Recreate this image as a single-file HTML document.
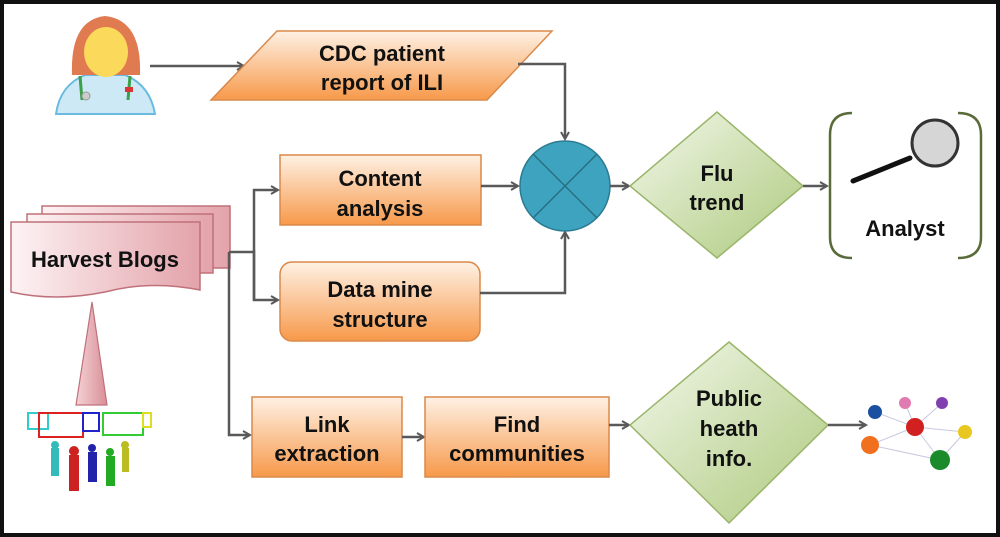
<!DOCTYPE html>
<html><head><style>
body{margin:0;background:#fff;}
svg{display:block;}
text{font-family:"Liberation Sans",Arial,sans-serif;font-weight:bold;fill:#111;text-anchor:middle;}
</style></head><body>
<svg width="1000" height="537" viewBox="0 0 1000 537" xmlns="http://www.w3.org/2000/svg">
<defs>
<linearGradient id="or" x1="0" y1="0" x2="0" y2="1"><stop offset="0" stop-color="#fef1e4"/><stop offset="1" stop-color="#f7994a"/></linearGradient>
<linearGradient id="gr" x1="0" y1="0" x2="1" y2="1"><stop offset="0" stop-color="#f4f8ec"/><stop offset="1" stop-color="#acc97c"/></linearGradient>
<linearGradient id="pk" x1="0" y1="0" x2="1" y2="0"><stop offset="0" stop-color="#fdf3f4"/><stop offset="1" stop-color="#e3a3aa"/></linearGradient>
<linearGradient id="tri" x1="0" y1="0" x2="1" y2="0"><stop offset="0" stop-color="#f3d3d6"/><stop offset="1" stop-color="#d98e96"/></linearGradient>
<marker id="ar" markerWidth="10" markerHeight="10" refX="8" refY="5" orient="auto" markerUnits="userSpaceOnUse"><path d="M1,1 L8,5 L1,9" fill="none" stroke="#595959" stroke-width="2"/></marker>
</defs>
<rect x="2" y="2" width="996" height="533" fill="#fff" stroke="#111" stroke-width="4"/>

<!-- doctor -->
<g>
<path d="M56,114 Q60,85 85,75 L125,75 Q150,85 155,114 Z" fill="#cde9f5" stroke="#6bbbe0" stroke-width="2"/>
<path d="M80,76 L82,100 M130,76 L128,100" stroke="#3aa04a" stroke-width="3" fill="none"/>
<circle cx="86" cy="96" r="4" fill="#ccc" stroke="#999"/>
<rect x="125" y="87" width="8" height="5" fill="#d33"/>
<path d="M72,75 Q70,20 105,16 Q142,20 140,75 Z" fill="#e07a50"/>
<ellipse cx="106" cy="52" rx="22" ry="25" fill="#fbd95a"/>
</g>
<line x1="150" y1="66" x2="244" y2="66" stroke="#595959" stroke-width="2.5" marker-end="url(#ar)"/>

<!-- CDC parallelogram -->
<polygon points="277,31 552,31 487,100 211,100" fill="url(#or)" stroke="#d9894a" stroke-width="1.5"/>
<text x="382" y="61" font-size="22">CDC patient</text>
<text x="382" y="90" font-size="22">report of ILI</text>
<polyline points="518,64 565,64 565,139" fill="none" stroke="#595959" stroke-width="2.5" marker-end="url(#ar)"/>

<!-- Content analysis -->
<rect x="280" y="155" width="201" height="70" fill="url(#or)" stroke="#d9894a" stroke-width="1.5"/>
<text x="380" y="186" font-size="22">Content</text>
<text x="380" y="216" font-size="22">analysis</text>
<line x1="481" y1="186" x2="518" y2="186" stroke="#595959" stroke-width="2.5" marker-end="url(#ar)"/>

<!-- Data mine -->
<rect x="280" y="262" width="200" height="79" rx="12" fill="url(#or)" stroke="#d9894a" stroke-width="1.5"/>
<text x="380" y="297" font-size="22">Data mine</text>
<text x="380" y="327" font-size="22">structure</text>
<polyline points="480,293 565,293 565,232" fill="none" stroke="#595959" stroke-width="2.5" marker-end="url(#ar)"/>

<!-- circle -->
<circle cx="565" cy="186" r="45" fill="#3ea3bf" stroke="#2b7c93" stroke-width="1.5"/>
<line x1="533" y1="154" x2="597" y2="218" stroke="#276f84" stroke-width="1.5"/>
<line x1="597" y1="154" x2="533" y2="218" stroke="#276f84" stroke-width="1.5"/>
<line x1="610" y1="186" x2="629" y2="186" stroke="#595959" stroke-width="2.5" marker-end="url(#ar)"/>

<!-- Flu trend -->
<polygon points="717,112 803,186 717,258 630,186" fill="url(#gr)" stroke="#9ab56a" stroke-width="1.5"/>
<text x="717" y="181" font-size="22">Flu</text>
<text x="717" y="210" font-size="22">trend</text>
<line x1="803" y1="186" x2="827" y2="186" stroke="#595959" stroke-width="2.5" marker-end="url(#ar)"/>

<!-- Analyst bracket -->
<path d="M852,113 Q830,113 830,135 L830,237 Q830,258 852,258" fill="none" stroke="#5a6b3a" stroke-width="2.5"/>
<path d="M958,113 Q981,113 981,135 L981,237 Q981,258 958,258" fill="none" stroke="#5a6b3a" stroke-width="2.5"/>
<line x1="853" y1="181" x2="910" y2="158" stroke="#111" stroke-width="5" stroke-linecap="round"/>
<circle cx="935" cy="143" r="23" fill="#d6d6d6" stroke="#333" stroke-width="3"/>
<text x="905" y="236" font-size="22">Analyst</text>

<!-- Harvest blogs -->
<rect x="42" y="206" width="188" height="62" fill="url(#pk)" stroke="#c0707a" stroke-width="1.5"/>
<rect x="27" y="214" width="186" height="59" fill="url(#pk)" stroke="#c0707a" stroke-width="1.5"/>
<path d="M11,222 L200,222 L200,290 Q150,280 105,292 Q55,302 11,292 Z" fill="url(#pk)" stroke="#c0707a" stroke-width="1.5"/>
<text x="105" y="267" font-size="22">Harvest Blogs</text>

<!-- connectors from blogs -->
<polyline points="229,252 254,252" fill="none" stroke="#595959" stroke-width="2.5"/>
<polyline points="254,300 254,190 278,190" fill="none" stroke="#595959" stroke-width="2.5" marker-end="url(#ar)"/>
<polyline points="254,250 254,300 278,300" fill="none" stroke="#595959" stroke-width="2.5" marker-end="url(#ar)"/>
<polyline points="229,252 229,435 250,435" fill="none" stroke="#595959" stroke-width="2.5" marker-end="url(#ar)"/>

<!-- triangle -->
<polygon points="92,302 107,405 76,405" fill="url(#tri)" stroke="#c0707a" stroke-width="1.2"/>

<!-- people with bubbles -->
<g fill="none" stroke-width="2">
<rect x="28" y="413" width="20" height="16" stroke="#3cc"/>
<rect x="39" y="413" width="44" height="24" stroke="#d22"/>
<rect x="83" y="413" width="16" height="18" stroke="#22c"/>
<rect x="103" y="413" width="40" height="22" stroke="#3c3"/>
<rect x="143" y="413" width="8" height="14" stroke="#dd2"/>
</g>
<g>
<rect x="51" y="448" width="8" height="28" fill="#3bb"/><circle cx="55" cy="445" r="4" fill="#3bb"/>
<rect x="69" y="455" width="10" height="36" fill="#c22"/><circle cx="74" cy="451" r="5" fill="#c22"/>
<rect x="88" y="452" width="9" height="30" fill="#22a"/><circle cx="92" cy="448" r="4" fill="#22a"/>
<rect x="106" y="456" width="9" height="30" fill="#2a2"/><circle cx="110" cy="452" r="4" fill="#2a2"/>
<rect x="122" y="448" width="7" height="24" fill="#bb2"/><circle cx="125" cy="445" r="4" fill="#bb2"/>
</g>

<!-- Link extraction -->
<rect x="252" y="397" width="150" height="80" fill="url(#or)" stroke="#d9894a" stroke-width="1.5"/>
<text x="327" y="432" font-size="22">Link</text>
<text x="327" y="461" font-size="22">extraction</text>
<line x1="402" y1="437" x2="424" y2="437" stroke="#595959" stroke-width="2.5" marker-end="url(#ar)"/>

<!-- Find communities -->
<rect x="425" y="397" width="184" height="80" fill="url(#or)" stroke="#d9894a" stroke-width="1.5"/>
<text x="517" y="432" font-size="22">Find</text>
<text x="517" y="461" font-size="22">communities</text>
<line x1="609" y1="425" x2="629" y2="425" stroke="#595959" stroke-width="2.5" marker-end="url(#ar)"/>

<!-- Public heath -->
<polygon points="729,342 828,425 729,523 630,425" fill="url(#gr)" stroke="#9ab56a" stroke-width="1.5"/>
<text x="729" y="406" font-size="22">Public</text>
<text x="729" y="436" font-size="22">heath</text>
<text x="729" y="466" font-size="22">info.</text>
<line x1="828" y1="425" x2="866" y2="425" stroke="#595959" stroke-width="2.5" marker-end="url(#ar)"/>

<!-- network -->
<g stroke="#c8c8e0" stroke-width="1">
<line x1="875" y1="412" x2="915" y2="427"/><line x1="905" y1="403" x2="915" y2="427"/><line x1="942" y1="403" x2="915" y2="427"/>
<line x1="965" y1="432" x2="915" y2="427"/><line x1="870" y1="445" x2="915" y2="427"/><line x1="940" y1="460" x2="915" y2="427"/>
<line x1="870" y1="445" x2="940" y2="460"/><line x1="965" y1="432" x2="940" y2="460"/>
</g>
<g>
<circle cx="875" cy="412" r="7" fill="#1b4fa0"/>
<circle cx="905" cy="403" r="6" fill="#e07ab0"/>
<circle cx="942" cy="403" r="6" fill="#8040b0"/>
<circle cx="915" cy="427" r="9" fill="#d02020"/>
<circle cx="965" cy="432" r="7" fill="#e8c820"/>
<circle cx="870" cy="445" r="9" fill="#f07020"/>
<circle cx="940" cy="460" r="10" fill="#1a8a2a"/>
</g>
</svg>
</body></html>
